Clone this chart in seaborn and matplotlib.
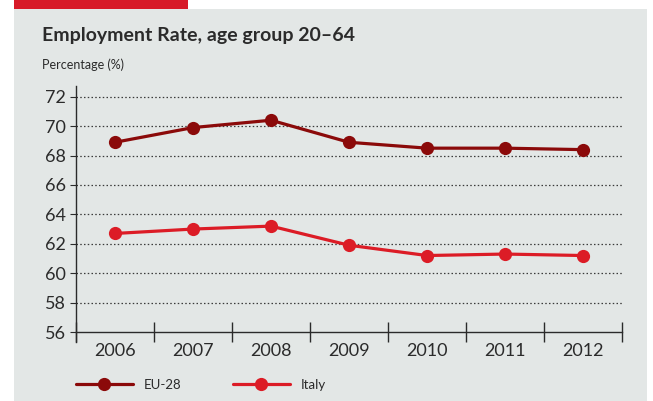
import numpy as np
import pandas as pd
import seaborn as sns
import matplotlib.pyplot as plt
from matplotlib.patches import Rectangle
from matplotlib.ticker import FixedLocator, NullFormatter

years = ["2006", "2007", "2008", "2009", "2010", "2011", "2012"]
eu28 = [68.9, 69.9, 70.4, 68.9, 68.5, 68.5, 68.4]
italy = [62.7, 63.0, 63.2, 61.9, 61.2, 61.3, 61.2]
series = ["EU-28", "Italy"]
colors = {"EU-28": "#8b0a0a", "Italy": "#dc1c26"}

data = pd.DataFrame({
    "year": years * 2,
    "value": eu28 + italy,
    "series": [series[0]] * len(years) + [series[1]] * len(years),
})

sns.set_theme(style="ticks")
plt.rcParams['font.family'] = ['Lato', 'DejaVu Sans']
ink = "#2b2b2b"

fig = plt.figure(figsize=(6.53, 4.01), dpi=100)
W, H = 653, 401
# grey panel and red tab
fig.patches.append(Rectangle((14 / W, 0), 633 / W, 392 / H, transform=fig.transFigure,
                             facecolor="#e3e7e6", edgecolor="none", zorder=-2))
fig.patches.append(Rectangle((14 / W, 392 / H), 174 / W, 9 / H, transform=fig.transFigure,
                             facecolor="#d71a28", edgecolor="none", zorder=-2))

ax = fig.add_axes([76 / W, 1 - 342.3 / H, 546 / W, 255.9 / H])
ax.set_facecolor("none")
ax.set_zorder(1)

sns.lineplot(data=data, x="year", y="value", hue="series", palette=colors,
             marker="o", markersize=9.5, markeredgewidth=0, linewidth=2.3,
             ax=ax, legend=True)

ax.set_xlim(-0.5, len(years) - 0.5)
ax.set_ylim(55.3, 72.7)

# y axis
ax.set_yticks(range(56, 73, 2))
ax.tick_params(axis="y", length=4, width=0.8, color=ink, labelsize=13, labelcolor=ink, pad=3)
for y in range(58, 73, 2):
    ax.axhline(y, color="#3a3a3a", linestyle=(0, (1.2, 1.8)), linewidth=0.9, zorder=1)

# x axis: boundary ticks, labels centred
ax.spines["bottom"].set_position(("data", 56))
ax.xaxis.set_major_locator(FixedLocator(np.arange(-0.5, len(years), 1.0)))
ax.xaxis.set_major_formatter(NullFormatter())
ax.xaxis.set_minor_locator(FixedLocator(np.arange(len(years))))
ax.set_xticklabels(years, minor=True)
ax.tick_params(axis="x", which="major", direction="inout", length=15, width=1.0, color=ink)
ax.tick_params(axis="x", which="minor", length=0, labelsize=13, labelcolor=ink, pad=8)

for s in ["left", "bottom"]:
    ax.spines[s].set_color(ink)
    ax.spines[s].set_linewidth(1.0)
sns.despine(ax=ax)
ax.set(xlabel="", ylabel="")

handles, labels = ax.get_legend_handles_labels()
ax.get_legend().remove()
fig.legend(handles, labels, loc="center left", bbox_to_anchor=(76 / W, 1 - 385 / H),
           ncol=2, frameon=False, fontsize=9.5, handlelength=4.3, handletextpad=0.8,
           columnspacing=3.95, borderpad=0, borderaxespad=0, labelcolor=ink)

fig.text(42 / W, 1 - 35 / H, "Employment Rate, age group 20–64", fontsize=14,
         fontweight="bold", color=ink, va="center", ha="left")
fig.text(42 / W, 1 - 65 / H, "Percentage (%)", fontsize=9, color=ink,
         va="center", ha="left")

fig.savefig("out.png", dpi=100)
